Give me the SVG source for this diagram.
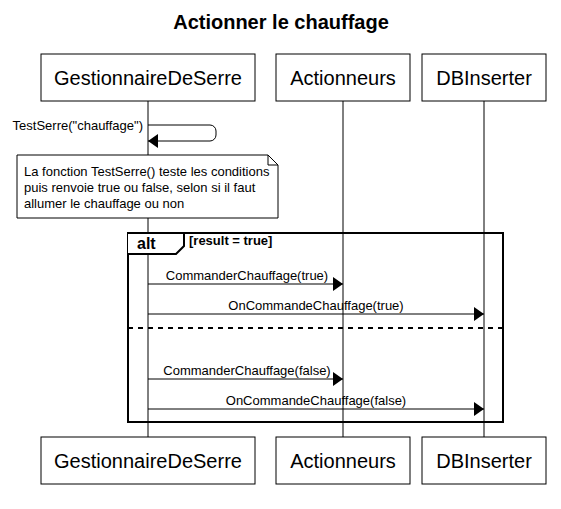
<svg xmlns="http://www.w3.org/2000/svg" width="561" height="509" viewBox="0 0 561 509">
<defs>
<style>
.box{fill:#fff;stroke:#000;stroke-width:1}
.pt{font-family:"Liberation Sans",Arial,sans-serif;font-size:20px;fill:#000;text-anchor:middle}
.life{stroke:#000;stroke-width:1}
.msg{stroke:#000;stroke-width:1;fill:none}
.ml{font-family:"Liberation Sans",Arial,sans-serif;font-size:13px;fill:#000}
.frame{fill:none;stroke:#000;stroke-width:2}
</style>
<marker id="ah" markerWidth="10" markerHeight="14" refX="10" refY="7" orient="auto" markerUnits="userSpaceOnUse">
<path d="M0,0 L10,7 L0,14 Z" fill="#000"/>
</marker>
</defs>
<rect width="561" height="509" fill="#fff"/>
<text x="281" y="29" font-family="'Liberation Sans',Arial,sans-serif" font-size="20" font-weight="bold" text-anchor="middle">Actionner le chauffage</text>

<g id="lifelines">
<line class="life" x1="148" y1="101" x2="148" y2="437"/>
<line class="life" x1="343" y1="101" x2="343" y2="437"/>
<line class="life" x1="484" y1="101" x2="484" y2="437"/>
</g>

<g id="GestionnaireDeSerre">
<rect class="box" x="41" y="54" width="214" height="47"/>
<text class="pt" x="148" y="85">GestionnaireDeSerre</text>
<rect class="box" x="41" y="437" width="214" height="47"/>
<text class="pt" x="148" y="468">GestionnaireDeSerre</text>
</g>
<g id="Actionneurs">
<rect class="box" x="276" y="54" width="134" height="47"/>
<text class="pt" x="343" y="85">Actionneurs</text>
<rect class="box" x="276" y="437" width="134" height="47"/>
<text class="pt" x="343" y="468">Actionneurs</text>
</g>
<g id="DBInserter">
<rect class="box" x="422" y="54" width="124" height="47"/>
<text class="pt" x="484" y="85">DBInserter</text>
<rect class="box" x="422" y="437" width="124" height="47"/>
<text class="pt" x="484" y="468">DBInserter</text>
</g>

<g id="note">
<path d="M17,155 H268 L278,165 V218 H17 Z" fill="#fff" stroke="#000" stroke-width="1"/>
<path d="M268,155 V165 H278" fill="none" stroke="#000" stroke-width="1"/>
<text class="ml" x="24" y="176">La fonction TestSerre() teste les conditions</text>
<text class="ml" x="24" y="192">puis renvoie true ou false, selon si il faut</text>
<text class="ml" x="24" y="208">allumer le chauffage ou non</text>
</g>

<g id="alt">
<rect class="frame" x="128" y="233" width="375" height="189"/>
<path d="M128,233 H184 V246 L176,254 H128" fill="#fff" stroke="#000" stroke-width="2"/>
<text x="137" y="249" font-family="'Liberation Sans',Arial,sans-serif" font-size="16" font-weight="bold">alt</text>
<text x="189" y="245" font-family="'Liberation Sans',Arial,sans-serif" font-size="13" font-weight="bold">[result = true]</text>
<line x1="128" y1="328" x2="503" y2="328" stroke="#000" stroke-width="2" stroke-dasharray="5,5"/>
</g>

<g id="connectors">
<path class="msg" d="M148,125 H210 A6,6 0 0 1 216,131 V135 A6,6 0 0 1 210,141 H148" marker-end="url(#ah)"/>
<text class="ml" x="143" y="130" text-anchor="end">TestSerre("chauffage")</text>
<line class="msg" x1="148" y1="284" x2="343" y2="284" marker-end="url(#ah)"/>
<text class="ml" x="247" y="280" text-anchor="middle">CommanderChauffage(true)</text>
<line class="msg" x1="148" y1="314" x2="484" y2="314" marker-end="url(#ah)"/>
<text class="ml" x="316" y="310" text-anchor="middle">OnCommandeChauffage(true)</text>
<line class="msg" x1="148" y1="379" x2="343" y2="379" marker-end="url(#ah)"/>
<text class="ml" x="247" y="375" text-anchor="middle">CommanderChauffage(false)</text>
<line class="msg" x1="148" y1="409" x2="484" y2="409" marker-end="url(#ah)"/>
<text class="ml" x="316" y="405" text-anchor="middle">OnCommandeChauffage(false)</text>
</g>
</svg>
